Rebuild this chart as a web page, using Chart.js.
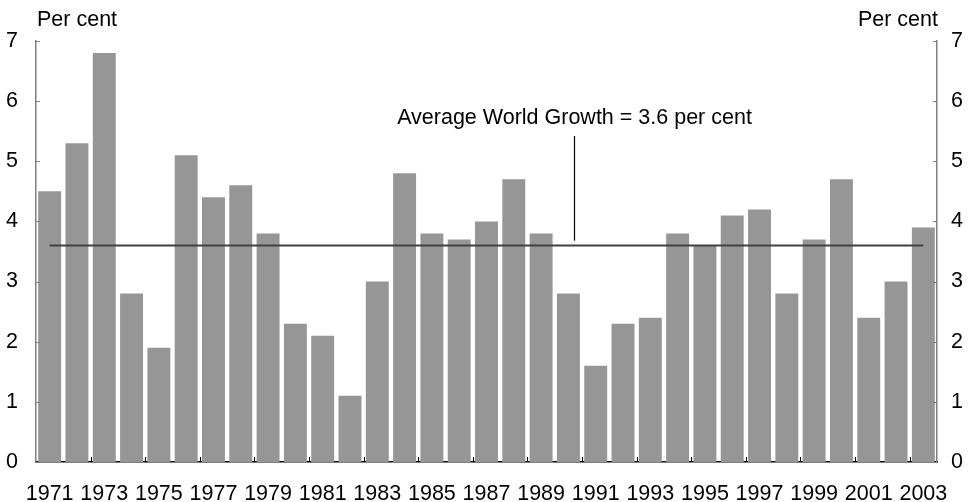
<!DOCTYPE html>
<html>
<head>
<meta charset="utf-8">
<script src="https://cdn.jsdelivr.net/npm/chart.js@4/dist/chart.umd.min.js"></script>
<style>
  html, body { margin: 0; padding: 0; background: #fff; }
  #wrap { width: 968px; height: 502px; position: relative; }
</style>
</head>
<body>
<div id="wrap"><canvas id="myChart"></canvas></div>
<script>
var years = ["1971","1972","1973","1974","1975","1976","1977","1978","1979","1980",
  "1981","1982","1983","1984","1985","1986","1987","1988","1989","1990",
  "1991","1992","1993","1994","1995","1996","1997","1998","1999","2000",
  "2001","2002","2003"];
var growth = [4.5, 5.3, 6.8, 2.8, 1.9, 5.1, 4.4, 4.6, 3.8, 2.3,
  2.1, 1.1, 3.0, 4.8, 3.8, 3.7, 4.0, 4.7, 3.8, 2.8,
  1.6, 2.3, 2.4, 3.8, 3.6, 4.1, 4.2, 2.8, 3.7, 4.7,
  2.4, 3.0, 3.9];
var yTicks = [0, 1, 2, 3, 4, 5, 6, 7];
var avgGrowth = 3.6;
var avgLabel = "Average World Growth = 3.6 per cent";
var unitLabel = "Per cent";

var font = "'Liberation Sans', Arial, sans-serif";
var fsize = 21.5;

// average line, the pointer + its label, per cent labels and inner tick marks
var extras = {
  id: 'extras',
  afterDatasetsDraw: function(chart) {
    var ctx = chart.ctx;
    var x = chart.scales.x, y = chart.scales.y;
    var area = chart.chartArea;
    ctx.save();

    // average line
    var ay = y.getPixelForValue(avgGrowth);
    ctx.strokeStyle = '#404040';
    ctx.lineWidth = 2;
    ctx.beginPath();
    ctx.moveTo(x.getPixelForValue(0), ay);
    ctx.lineTo(x.getPixelForValue(years.length - 1), ay);
    ctx.stroke();

    // pointer
    var step = x.getPixelForValue(1) - x.getPixelForValue(0);
    var px = Math.round(x.getPixelForValue(19) + 0.2 * step) + 0.5;
    ctx.strokeStyle = '#000';
    ctx.lineWidth = 1.2;
    ctx.beginPath();
    ctx.moveTo(px, y.getPixelForValue(5.42));
    ctx.lineTo(px, y.getPixelForValue(3.68));
    ctx.stroke();

    ctx.fillStyle = '#000';
    ctx.font = fsize + 'px ' + font;
    ctx.textAlign = 'center';
    ctx.textBaseline = 'middle';
    ctx.fillText(avgLabel, px, y.getPixelForValue(5.72));

    // per cent labels
    ctx.textAlign = 'left';
    ctx.fillText(unitLabel, area.left + 1, 20);
    ctx.textAlign = 'right';
    ctx.fillText(unitLabel, area.right + 1, 20);

    // inner tick marks
    ctx.lineWidth = 1;
    ctx.strokeStyle = '#808080';
    yTicks.forEach(function(v) {
      var ty = Math.round(y.getPixelForValue(v)) + 0.5;
      ctx.beginPath();
      ctx.moveTo(area.left, ty); ctx.lineTo(area.left + 4, ty);
      ctx.moveTo(area.right, ty); ctx.lineTo(area.right - 4, ty);
      ctx.stroke();
    });
    ctx.strokeStyle = '#000';
    for (var i = 2; i < years.length; i += 2) {
      var tx = Math.round((x.getPixelForValue(i - 1) + x.getPixelForValue(i)) / 2) + 0.5;
      ctx.beginPath();
      ctx.moveTo(tx, area.bottom); ctx.lineTo(tx, area.bottom - 5);
      ctx.stroke();
    }
    ctx.restore();
  }
};

var ctx = document.getElementById("myChart").getContext('2d');
var myChart = new Chart(ctx, {
  type: 'bar',
  data: {
    labels: years,
    datasets: [{
      data: growth,
      backgroundColor: '#969696',
      borderWidth: 0,
      barPercentage: 0.84,
      categoryPercentage: 1.0,
      yAxisID: 'y'
    }]
  },
  options: {
    responsive: true,
    maintainAspectRatio: false,
    animation: false,
    layout: { padding: { top: 41, right: 0, left: 0, bottom: 0 } },
    plugins: {
      legend: { display: false },
      tooltip: { enabled: false }
    },
    scales: {
      x: {
        offset: true,
        grid: { display: false, drawTicks: false },
        border: { display: true, color: '#000', width: 1.5 },
        ticks: {
          autoSkip: false,
          maxRotation: 0,
          padding: 19,
          color: '#000',
          font: { family: font, size: fsize },
          callback: function(v, i) { return i % 2 === 0 ? years[i] : ''; }
        },
        afterFit: function(s) { s.height = 40; }
      },
      y: {
        position: 'left',
        min: 0, max: 7,
        grid: { display: false, drawTicks: false },
        border: { display: true, color: '#808080', width: 1.5 },
        ticks: {
          stepSize: 1,
          padding: 18,
          color: '#000',
          font: { family: font, size: fsize }
        },
        afterFit: function(s) { s.width = 36; }
      },
      y2: {
        position: 'right',
        min: 0, max: 7,
        grid: { display: false, drawTicks: false },
        border: { display: true, color: '#808080', width: 1.5 },
        ticks: {
          stepSize: 1,
          padding: 14,
          color: '#000',
          font: { family: font, size: fsize }
        },
        afterFit: function(s) { s.width = 31; }
      }
    }
  },
  plugins: [extras]
});
</script>
</body>
</html>
